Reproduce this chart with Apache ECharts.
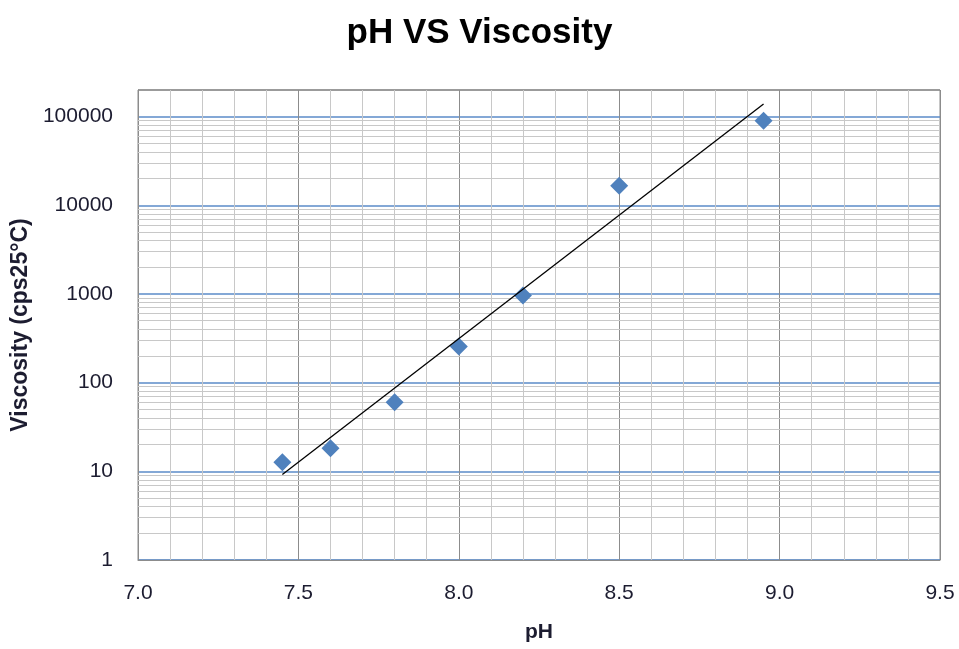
<!DOCTYPE html>
<html>
<head>
<meta charset="utf-8">
<script src="https://cdn.jsdelivr.net/npm/echarts@6/dist/echarts.min.js"></script>
<style>html,body{margin:0;padding:0;background:#fff;}#c{width:959px;height:649px;}</style>
</head>
<body>
<div id="c"></div>
<script>
var titleText = 'pH VS Viscosity';
var xName = 'pH';
var yName = 'Viscosity (cps25°C)';
var phValues = [7.45, 7.6, 7.8, 8.0, 8.2, 8.5, 8.95];
var viscosityValues = [12.7, 18.2, 60, 256, 960, 16600, 90000];
var trendX = [7.45, 8.95];
var trendY = [9.2, 139000];
var yTickLabels = ['1', '10', '100', '1000', '10000', '100000'];
var minorY = [2,3,4,5,6,7,8,9,
  20,30,40,50,60,70,80,90,
  200,300,400,500,600,700,800,900,
  2000,3000,4000,5000,6000,7000,8000,9000,
  20000,30000,40000,50000,60000,70000,80000,90000];

var FONT = '"Liberation Sans", Arial, sans-serif';
var TXT = '#1c1c30';
var BLUE = '#5b8bc8';
var GRAY = '#8c8c8c';

var chart = echarts.init(document.getElementById('c'), null, {renderer: 'canvas'});
var option = {
  animation: false,
  backgroundColor: '#ffffff',
  title: {
    text: titleText, left: 'center', top: 11,
    textStyle: {fontFamily: FONT, fontSize: 35, fontWeight: 'bold', color: '#000'}
  },
  grid: {left: 138, right: 19, top: 90, bottom: 89, outerBoundsMode: 'none', containLabel: false,
    show: true, borderColor: GRAY, borderWidth: 1, backgroundColor: 'transparent'},
  xAxis: {
    type: 'value', min: 7, max: 9.5, interval: 0.5,
    name: xName, nameLocation: 'middle', nameGap: 62,
    nameTextStyle: {fontFamily: FONT, fontSize: 21, fontWeight: 'bold', color: TXT},
    axisLine: {show: true, lineStyle: {color: GRAY}},
    axisTick: {show: false},
    minorTick: {show: false, splitNumber: 5},
    minorSplitLine: {show: true, lineStyle: {color: '#c8c8c8', width: 1}},
    splitLine: {show: true, lineStyle: {color: GRAY, width: 1}},
    axisLabel: {margin: 23, fontFamily: FONT, fontSize: 21, color: TXT,
      formatter: function (v) { return v.toFixed(1); }}
  },
  yAxis: {
    type: 'log', logBase: 10, min: 1, max: 200000,
    name: yName, nameLocation: 'middle', nameGap: 105, nameRotate: 90,
    nameTextStyle: {fontFamily: FONT, fontSize: 23, fontWeight: 'bold', color: TXT},
    axisLine: {show: true, lineStyle: {color: GRAY}},
    axisTick: {show: false},
    splitLine: {show: true, lineStyle: {color: [BLUE, BLUE, BLUE, BLUE, BLUE, BLUE, GRAY], width: 1.5}},
    axisLabel: {margin: 25, fontFamily: FONT, fontSize: 21, color: TXT, showMaxLabel: false,
      formatter: function (v) {
        var s = String(Math.round(v));
        return yTickLabels.indexOf(s) >= 0 ? s : '';
      }}
  },
  series: [
    {
      type: 'line', data: [], z: 1, silent: true,
      markLine: {
        silent: true, symbol: ['none', 'none'], label: {show: false},
        lineStyle: {color: '#c8c8c8', type: 'solid', width: 1},
        emphasis: {disabled: true},
        data: minorY.map(function (v) { return {yAxis: v}; })
      }
    },
    {
      type: 'scatter', z: 5,
      symbol: 'diamond', symbolSize: 18,
      itemStyle: {color: '#4f81bd', opacity: 1},
      data: phValues.map(function (x, i) { return [x, viscosityValues[i]]; })
    },
    {
      type: 'line', z: 6, symbol: 'none', silent: true,
      lineStyle: {color: '#000', width: 1.3},
      data: trendX.map(function (x, i) { return [x, trendY[i]]; })
    }
  ]
};
chart.setOption(option);
</script>
</body>
</html>
